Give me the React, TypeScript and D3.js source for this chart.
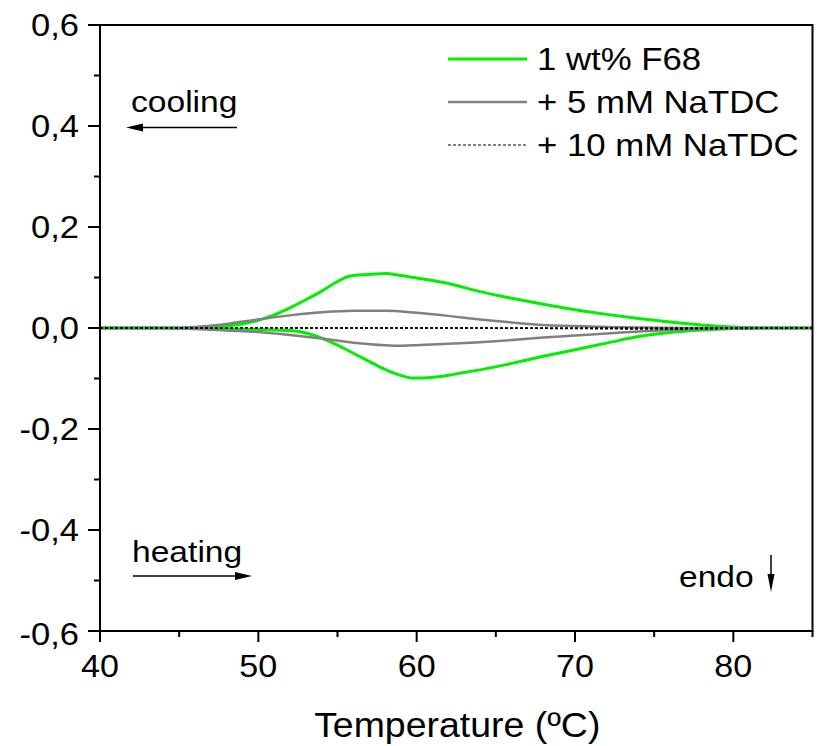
import React from "react";
import * as d3 from "d3";

// ---- data ----
const xTicks = [40, 50, 60, 70, 80];
const xMinorTicks = [45, 55, 65, 75, 85];
const yTicks = [-0.6, -0.4, -0.2, 0.0, 0.2, 0.4, 0.6];
const yMinorTicks = [-0.5, -0.3, -0.1, 0.1, 0.3, 0.5];
const seriesNames = ["1 wt% F68", "+ 5 mM NaTDC", "+ 10 mM NaTDC"];

// 1 wt% F68 – cooling (upper) branch
const greenCoolT = [40, 44, 46, 48, 49, 50, 51, 52, 53, 54, 55, 55.5, 56, 57, 58, 59, 60, 62, 64, 66, 68, 70, 72, 74, 76, 78, 80, 82, 85];
const greenCoolV = [0, 0, 0.001, 0.004, 0.008, 0.015, 0.026, 0.04, 0.056, 0.073, 0.092, 0.1, 0.104, 0.106, 0.108, 0.104, 0.099, 0.088, 0.072, 0.059, 0.047, 0.036, 0.027, 0.019, 0.012, 0.006, 0.002, 0, 0];
// 1 wt% F68 – heating (lower) branch
const greenHeatT = [40, 44, 48, 50, 52, 53, 54, 55, 56, 57, 58, 59, 59.7, 60.5, 61.5, 63, 64.5, 66, 68, 70, 72, 74, 76, 78, 80, 82, 85];
const greenHeatV = [0, 0, -0.002, -0.003, -0.005, -0.01, -0.02, -0.034, -0.05, -0.066, -0.082, -0.094, -0.099, -0.099, -0.096, -0.088, -0.08, -0.07, -0.056, -0.043, -0.03, -0.017, -0.009, -0.004, -0.001, 0, 0];
// + 5 mM NaTDC
const grayCoolT = [40, 44, 46, 48, 50, 52, 54, 56, 58, 60, 62, 64, 66, 68, 70, 72, 74, 77, 80, 85];
const grayCoolV = [0, 0, 0.002, 0.008, 0.017, 0.025, 0.031, 0.034, 0.034, 0.03, 0.024, 0.017, 0.011, 0.006, 0.004, 0.002, 0.001, 0, 0, 0];
const grayHeatT = [40, 44, 46, 48, 50, 52, 54, 56, 58, 59, 60, 62, 64, 66, 68, 70, 72, 74, 76, 78, 80, 85];
const grayHeatV = [0, 0, -0.002, -0.005, -0.008, -0.014, -0.021, -0.029, -0.034, -0.035, -0.034, -0.031, -0.028, -0.024, -0.019, -0.015, -0.011, -0.007, -0.004, -0.002, 0, 0];
// + 10 mM NaTDC
const blackCoolT = [40, 50, 60, 70, 80, 85];
const blackCoolV = [0, 0, 0, 0, 0, 0];
const blackHeatT = [40, 50, 60, 70, 75, 80, 85];
const blackHeatV = [0, 0, 0, -0.001, -0.002, -0.001, 0];

const W = 817;
const H = 746;
const M = { left: 100, right: 812.5, top: 25, bottom: 631 };
const FONT = "'Liberation Sans', Arial, Helvetica, sans-serif";

function STxt({ x, y, fs, sx, anchor, children }: any) {
  return (
    <text
      transform={`translate(${x},${y}) scale(${sx},1)`}
      fontSize={fs}
      fontFamily={FONT}
      textAnchor={anchor || "start"}
      fill="#000"
    >
      {children}
    </text>
  );
}

export default function App() {
  const x = d3.scaleLinear().domain([40, 85]).range([M.left, M.right]);
  const y = d3.scaleLinear().domain([-0.6, 0.6]).range([M.bottom, M.top]);
  const line = (ts: number[], vs: number[]) =>
    d3
      .line<number>()
      .x((_, i) => x(ts[i]))
      .y((v) => y(v))
      .curve(d3.curveMonotoneX)(vs) || "";

  const green = "#00f000";
  const gray = "#808080";

  const legendX1 = 448;
  const legendX2 = 527;
  const legendY = [59, 102, 145];
  const legendStyles = [
    { stroke: green, width: 3, dash: undefined },
    { stroke: gray, width: 2.5, dash: undefined },
    { stroke: "#000", width: 1.2, dash: "3,2" },
  ];

  return (
    <svg width={W} height={H} style={{ position: "absolute", left: 0, top: 0 }}>
      <rect x={0} y={0} width={W} height={H} fill="#fff" />
      {/* curves */}
      <path d={line(greenCoolT, greenCoolV)} fill="none" stroke={green} strokeWidth={3} />
      <path d={line(greenHeatT, greenHeatV)} fill="none" stroke={green} strokeWidth={3} />
      <path d={line(grayCoolT, grayCoolV)} fill="none" stroke={gray} strokeWidth={2.5} />
      <path d={line(grayHeatT, grayHeatV)} fill="none" stroke={gray} strokeWidth={2.5} />
      <path d={line(blackCoolT, blackCoolV)} fill="none" stroke="#000" strokeWidth={1.5} strokeDasharray="3,2" />
      <path d={line(blackHeatT, blackHeatV)} fill="none" stroke="#000" strokeWidth={1.5} strokeDasharray="3,2" />

      {/* frame */}
      <rect x={M.left} y={M.top} width={M.right - M.left} height={M.bottom - M.top} fill="none" stroke="#000" strokeWidth={2} />

      {/* y ticks */}
      {yTicks.map((t) => (
        <g key={"y" + t}>
          <line x1={M.left - 12} x2={M.left} y1={y(t)} y2={y(t)} stroke="#000" strokeWidth={2} />
          <STxt x={M.left - 21} y={y(t) + (t === -0.6 ? 14 : 10.5)} fs={32} sx={1.08} anchor="end">
            {t.toFixed(1).replace(".", ",")}
          </STxt>
        </g>
      ))}
      {yMinorTicks.map((t) => (
        <line key={"ym" + t} x1={M.left - 6} x2={M.left} y1={y(t)} y2={y(t)} stroke="#000" strokeWidth={2} />
      ))}

      {/* x ticks */}
      {xTicks.map((t) => (
        <g key={"x" + t}>
          <line x1={x(t)} x2={x(t)} y1={M.bottom} y2={M.bottom + 11} stroke="#000" strokeWidth={2} />
          <STxt x={x(t)} y={677} fs={31} sx={1.1} anchor="middle">
            {t}
          </STxt>
        </g>
      ))}
      {xMinorTicks.map((t) => (
        <line key={"xm" + t} x1={x(t)} x2={x(t)} y1={M.bottom} y2={M.bottom + 6} stroke="#000" strokeWidth={2} />
      ))}

      {/* axis title */}
      <STxt x={(M.left + M.right) / 2 + 1} y={736.5} fs={35} sx={1.07} anchor="middle">
        Temperature (ºC)
      </STxt>

      {/* legend */}
      {seriesNames.map((name, i) => (
        <g key={name}>
          <line
            x1={legendX1}
            x2={legendX2}
            y1={legendY[i]}
            y2={legendY[i]}
            stroke={legendStyles[i].stroke}
            strokeWidth={legendStyles[i].width}
            strokeDasharray={legendStyles[i].dash}
          />
          <STxt x={537} y={legendY[i] + 11} fs={30.5} sx={1.14}>
            {name}
          </STxt>
        </g>
      ))}

      {/* annotations */}
      <STxt x={131} y={111.5} fs={30} sx={1.12}>cooling</STxt>
      <line x1={140} x2={237} y1={127.5} y2={127.5} stroke="#000" strokeWidth={1.5} />
      <path d="M126,127.5 L143,123.5 L143,131.5 Z" fill="#000" />

      <STxt x={132} y={561.5} fs={30} sx={1.12}>heating</STxt>
      <line x1={133} x2={238} y1={576} y2={576} stroke="#000" strokeWidth={1.5} />
      <path d="M252,576 L235,572 L235,580 Z" fill="#000" />

      <STxt x={679} y={587} fs={30} sx={1.12}>endo</STxt>
      <line x1={771} x2={771} y1={555} y2={578} stroke="#000" strokeWidth={1.5} />
      <path d="M771,592 L767.5,574 L774.5,574 Z" fill="#000" />
    </svg>
  );
}
